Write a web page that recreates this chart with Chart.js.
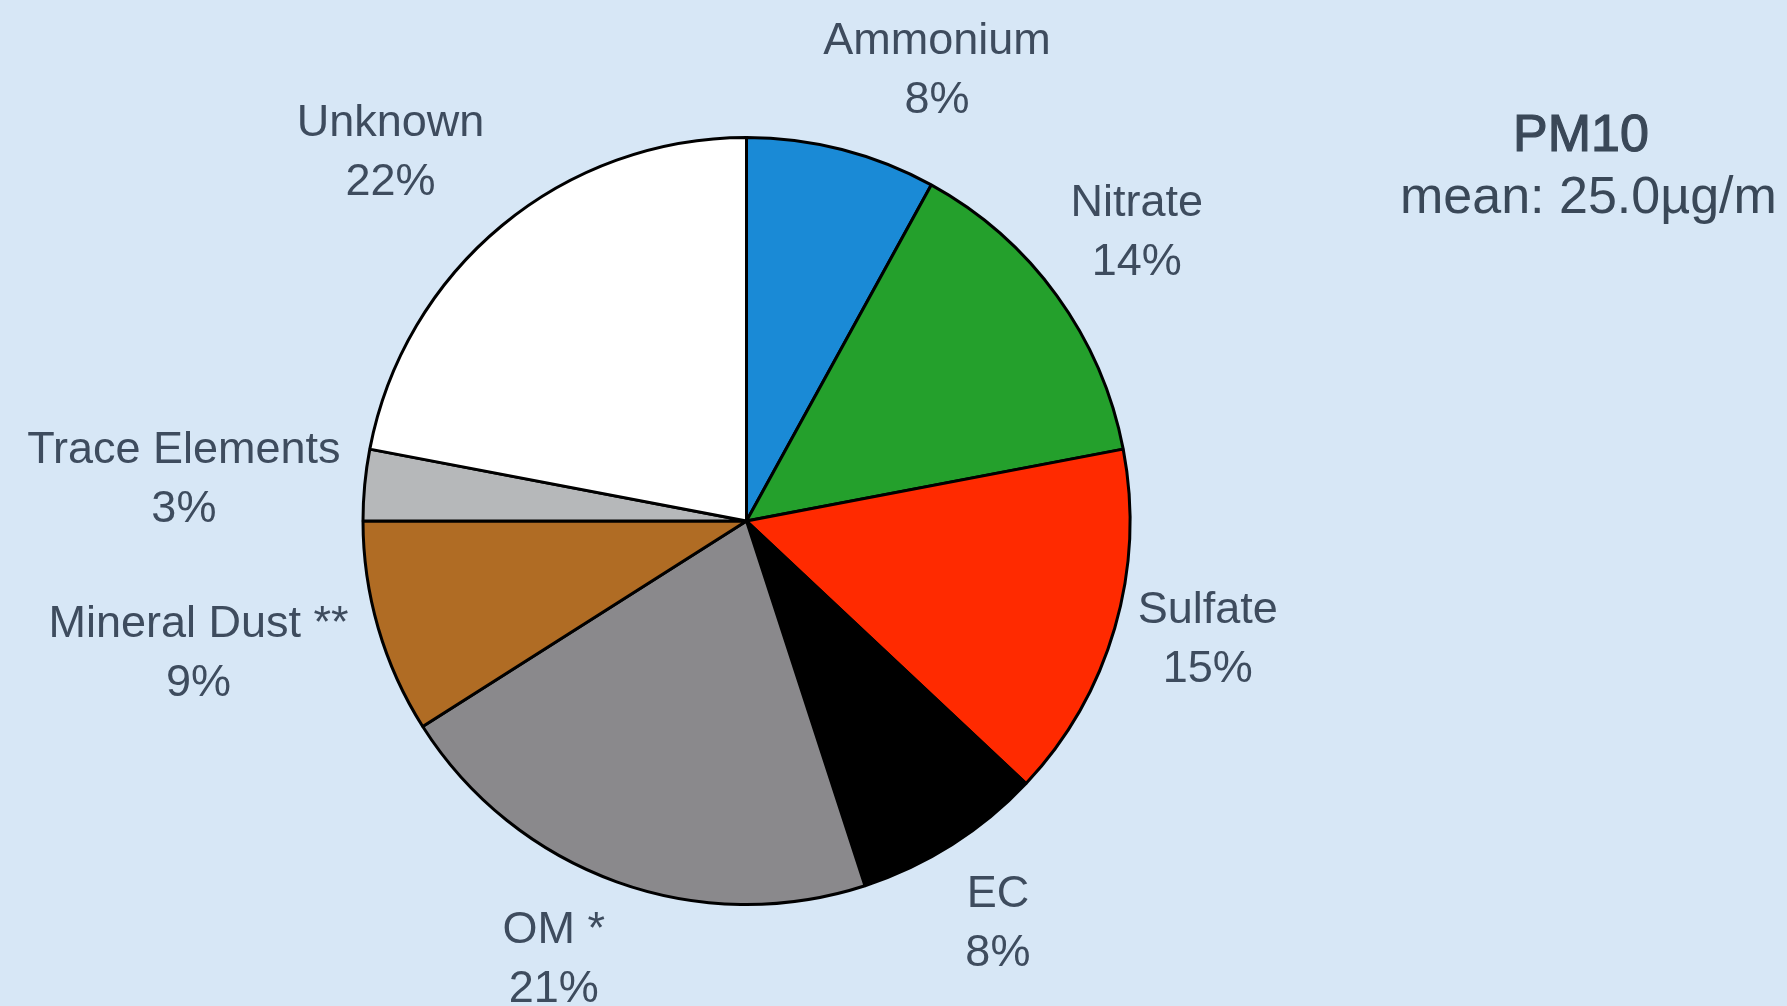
<!DOCTYPE html>
<html lang="en">
<head>
    <meta charset="UTF-8">
    <title>PM10 Composition</title>
    <script src="https://cdn.jsdelivr.net/npm/chart.js"></script>
    <style>
        html, body { margin: 0; padding: 0; background: #d7e7f6; overflow: hidden; }
        #wrap { position: relative; width: 1787px; height: 1006px; }
        #pie { position: absolute; left: 0; top: 0; }
        #caption {
            position: absolute; left: 1400px; top: 102px; width: 387px;
            font-family: "Liberation Sans", Arial, sans-serif; color: #3a4858;
            white-space: nowrap;
        }
        #caption .name {
            font-size: 52px; line-height: 62px; margin-left: 113px;
            -webkit-text-stroke: 1.2px #3a4858;
        }
        #caption .mean { font-size: 52px; line-height: 62px; }
    </style>
</head>
<body>
<div id="wrap">
    <canvas id="pie" width="1787" height="1006"></canvas>
    <div id="caption">
        <div class="name">PM10</div>
        <div class="mean">mean: 25.0µg/m</div>
    </div>
</div>
<script>
    // Components, clockwise from 12 o'clock
    const components = ['Ammonium', 'Nitrate', 'Sulfate', 'EC', 'OM *', 'Mineral Dust **', 'Trace Elements', 'Unknown'];
    const shares = [8, 14, 15, 8, 21, 9, 3, 22];
    const sliceColors = ['#1a8ad6', '#24a02c', '#ff2a00', '#000000', '#8a898c', '#b06c24', '#b6b8ba', '#ffffff'];

    // label placement: angle tweak (deg) from the slice middle, distance in radii
    const labelTweak = [8.5, -0.5, -1.8, 0.4, 3.9, 2.6, -1.2, -4.4];
    const labelDist = [1.276, 1.266, 1.242, 1.237, 1.25, 1.47, 1.471, 1.336];

    const outsideLabels = {
        id: 'outsideLabels',
        afterDatasetsDraw(chart) {
            const ctx = chart.ctx;
            const arcs = chart.getDatasetMeta(0).data;
            ctx.save();
            ctx.font = '45px "Liberation Sans", Arial, sans-serif';
            ctx.fillStyle = '#3e4c5e';
            ctx.textAlign = 'center';
            ctx.textBaseline = 'middle';
            arcs.forEach((arc, i) => {
                const { x, y, startAngle, endAngle, outerRadius } = arc.getProps(['x', 'y', 'startAngle', 'endAngle', 'outerRadius'], true);
                const mid = (startAngle + endAngle) / 2 + labelTweak[i] * Math.PI / 180;
                const r = outerRadius * labelDist[i];
                const lx = x + Math.cos(mid) * r;
                const ly = y + Math.sin(mid) * r;
                ctx.fillText(components[i], lx, ly - 29);
                ctx.fillText(shares[i] + '%', lx, ly + 30);
            });
            ctx.restore();
        }
    };

    new Chart(document.getElementById('pie'), {
        type: 'pie',
        data: {
            labels: components,
            datasets: [{
                data: shares,
                backgroundColor: sliceColors,
                borderColor: '#000000',
                borderWidth: 3
            }]
        },
        options: {
            responsive: false,
            animation: false,
            layout: { padding: { left: 361, right: 655, top: 136, bottom: 100 } },
            plugins: {
                legend: { display: false },
                tooltip: { enabled: false }
            }
        },
        plugins: [outsideLabels]
    });
</script>
</body>
</html>
